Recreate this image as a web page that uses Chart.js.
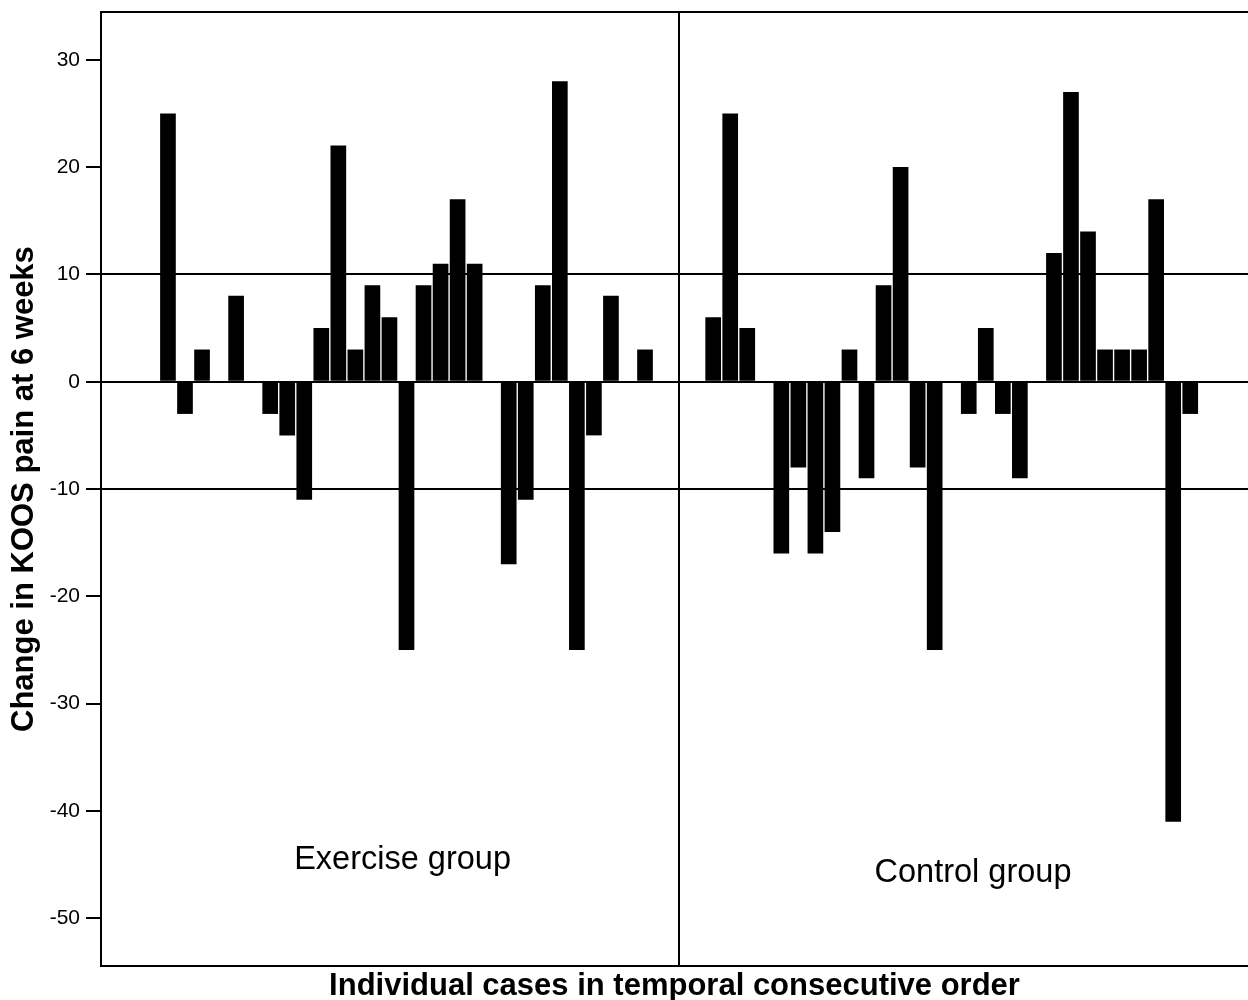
<!DOCTYPE html>
<html>
<head>
<meta charset="utf-8">
<title>Change in KOOS pain at 6 weeks</title>
<script src="https://cdn.jsdelivr.net/npm/chart.js@4.4.1/dist/chart.umd.min.js"></script>
<style>
  html, body { margin: 0; padding: 0; background: #fff; overflow: hidden; }
  #wrap { position: relative; width: 1248px; height: 1000px; }
</style>
</head>
<body>
<div id="wrap"><canvas id="chart"></canvas></div>
<script>
/* =========================================
   DATA
   ========================================= */
// case slots in temporal order (slot 31 is the group divider, 32 left empty)
const exerciseCases = [1, 2, 3, 4, 5, 6, 7, 8, 9, 10, 11, 12, 13, 14, 15,
                       16, 17, 18, 19, 20, 21, 22, 23, 24, 25, 26, 27, 28, 29, 30];
const exerciseChange = [25, -3, 3, 0, 8, 0, -3, -5, -11, 5, 22, 3, 9, 6, -25,
                        9, 11, 17, 11, 0, -17, -11, 9, 28, -25, -5, 8, 0, 3, 0];

const controlCases = [33, 34, 35, 36, 37, 38, 39, 40, 41, 42, 43, 44, 45, 46, 47,
                      48, 49, 50, 51, 52, 53, 54, 55, 56, 57, 58, 59, 60, 61];
const controlChange = [6, 25, 5, 0, -16, -8, -16, -14, 3, -9, 9, 20, -8, -25, 0,
                       -3, 5, -3, -9, 0, 12, 27, 14, 3, 3, 3, 17, -41, -3];

const yTicks = [30, 20, 10, 0, -10, -20, -30, -40, -50];
const referenceLines = [10, 0, -10];
const dividerCase = 31;
const groupNames = ['Exercise group', 'Control group'];

/* =========================================
   GLOBAL CONFIG
   ========================================= */
const FONT = '"Liberation Sans", Arial, Helvetica, sans-serif';
Chart.defaults.font.family = FONT;
Chart.defaults.color = '#000';

// group captions anchored in data units (case slot, KOOS change)
const captionAnchors = [
    { x: 14.77, y: -45.4 },
    { x: 48.25, y: -46.6 }
];

// top frame line, group divider and the two captions
const framePlugin = {
    id: 'frame',
    afterDatasetsDraw(chart) {
        const { ctx, chartArea: a, scales: { x, y } } = chart;
        ctx.save();
        ctx.strokeStyle = '#000';
        ctx.lineWidth = 2;
        ctx.beginPath();
        ctx.moveTo(a.left, a.top);
        ctx.lineTo(a.right, a.top);
        const dx = Math.round(x.getPixelForValue(dividerCase));
        ctx.moveTo(dx, a.top);
        ctx.lineTo(dx, a.bottom);
        ctx.stroke();

        ctx.fillStyle = '#000';
        ctx.font = '32.5px ' + FONT;
        ctx.textAlign = 'center';
        ctx.textBaseline = 'alphabetic';
        groupNames.forEach((name, i) => {
            ctx.fillText(name, x.getPixelForValue(captionAnchors[i].x), y.getPixelForValue(captionAnchors[i].y));
        });
        ctx.restore();
    }
};

const points = exerciseCases.map((c, i) => ({ x: c, y: exerciseChange[i] }))
    .concat(controlCases.map((c, i) => ({ x: c, y: controlChange[i] })));

/* =========================================
   CHART
   ========================================= */
new Chart(document.getElementById('chart'), {
    type: 'bar',
    data: {
        datasets: [{
            label: 'Change in KOOS pain',
            data: points,
            backgroundColor: '#000',
            borderWidth: 0,
            barPercentage: 0.92,
            categoryPercentage: 1
        }]
    },
    options: {
        responsive: true,
        maintainAspectRatio: false,
        animation: false,
        layout: { padding: { top: 12, right: 0, bottom: 0, left: 0 } },
        plugins: { legend: { display: false }, tooltip: { enabled: false } },
        scales: {
            x: {
                type: 'linear',
                offset: false,
                min: -2.93,
                max: 64.39,
                ticks: { display: false, stepSize: 10 },
                grid: { display: false, drawTicks: false, offset: false },
                border: { display: true, color: '#000', width: 2 },
                title: {
                    display: true,
                    text: 'Individual cases in temporal consecutive order',
                    color: '#000',
                    font: { size: 31, weight: 'bold', lineHeight: 0.9 },
                    padding: { top: 6, bottom: 0 }
                }
            },
            y: {
                min: -54.45,
                max: 34.45,
                afterBuildTicks: s => { s.ticks = yTicks.map(v => ({ value: v })); },
                afterFit: s => { s.width = 101; s.paddingTop = 0; s.paddingBottom = 0; },
                ticks: { color: '#000', font: { size: 21 }, padding: 6 },
                grid: {
                    color: c => referenceLines.includes(c.tick.value) ? '#000' : 'rgba(0,0,0,0)',
                    lineWidth: 2,
                    tickColor: '#000',
                    tickWidth: 2,
                    tickLength: 15
                },
                border: { display: true, color: '#000', width: 2 },
                title: {
                    display: true,
                    text: 'Change in KOOS pain at 6 weeks',
                    color: '#000',
                    font: { size: 31, weight: 'bold', lineHeight: 1.2 },
                    padding: { top: 6, bottom: 0 }
                }
            }
        }
    },
    plugins: [framePlugin]
});
</script>
</body>
</html>
